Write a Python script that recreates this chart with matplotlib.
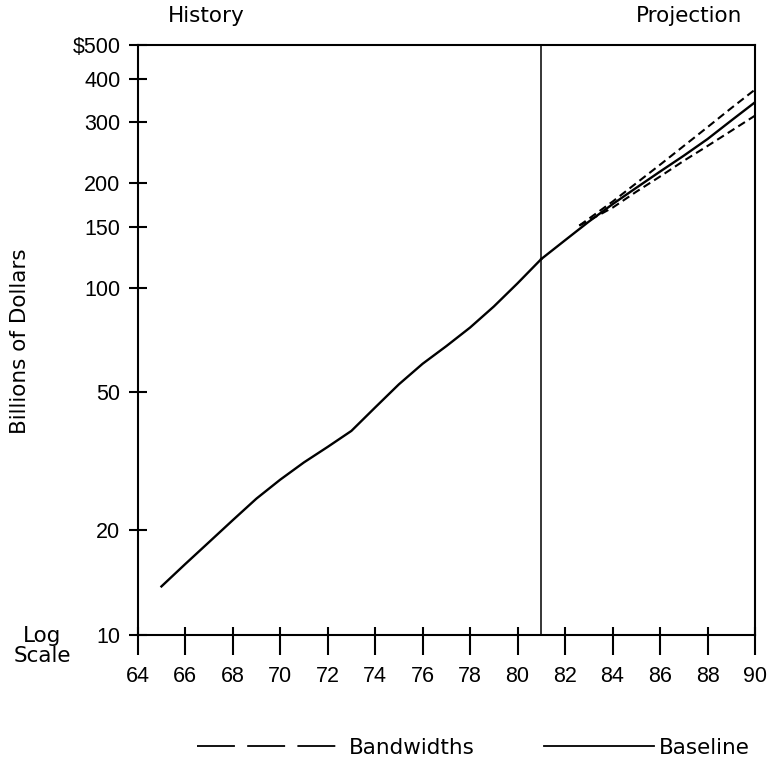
import matplotlib
matplotlib.use("Agg")
import matplotlib.pyplot as plt
from matplotlib.lines import Line2D
from matplotlib.ticker import FixedLocator, NullLocator

plt.rcParams["font.family"] = ["Liberation Sans", "DejaVu Sans"]
LABEL_FONT = ["DejaVu Sans"]

# historical series (fiscal years, billions of dollars)
hist_years = [65, 66, 67, 68, 69, 70, 71, 72, 73, 74, 75, 76, 77, 78, 79, 80, 81]
hist_values = [13.8, 16.0, 18.5, 21.4, 24.7, 28.0, 31.4, 34.8, 38.7, 45.2, 52.7,
               60.4, 67.9, 76.8, 88.3, 103, 121]

# projection
proj_years = [81, 82, 83, 84, 85, 86, 87, 88, 89, 90]
baseline = [121, 137, 155, 174, 194, 216, 240, 268, 303, 342]

band_years = [82.6, 84, 85, 86, 87, 88, 89, 90]
band_high = [151, 177, 200, 226, 256, 290, 329, 372]
band_low = [151, 170, 189, 209, 232, 256, 283, 313]

x_ticks = list(range(64, 91, 2))
y_ticks = [10, 20, 50, 100, 150, 200, 300, 400, 500]
y_labels = ["10", "20", "50", "100", "150", "200", "300", "400", "$500"]


def main():
    fig = plt.figure(figsize=(7.75, 7.65), dpi=100)
    ax = fig.add_axes([137.7 / 775, 130 / 765, 617.3 / 775, 590 / 765])

    ax.plot(hist_years, hist_values, color="black", lw=1.7, solid_joinstyle="round")
    ax.plot(proj_years, baseline, color="black", lw=1.7)
    ax.plot(band_years, band_high, color="black", lw=1.5, dashes=(3.8, 2.2))
    ax.plot(band_years, band_low, color="black", lw=1.5, dashes=(3.8, 2.2))
    ax.axvline(81, color="black", lw=1.1)

    ax.set_yscale("log")
    ax.set_xlim(64, 90)
    ax.set_ylim(10, 500)

    ax.yaxis.set_major_locator(FixedLocator(y_ticks))
    ax.yaxis.set_minor_locator(NullLocator())
    ax.set_yticklabels(y_labels)
    ax.set_xticks(x_ticks)
    ax.set_xticklabels([str(t) for t in x_ticks])

    # x ticks stick out below the axis more than above it
    ax.xaxis.set_minor_locator(FixedLocator(x_ticks))
    ax.xaxis.remove_overlapping_locs = False
    ax.tick_params(axis="x", which="major", direction="out", length=14.5, width=1.5,
                   pad=8, labelsize=15.5)
    ax.tick_params(axis="x", which="minor", direction="in", length=6, width=1.5)
    ax.tick_params(axis="y", which="major", direction="inout", length=13, width=1.5,
                   pad=6, labelsize=15.5)

    for s in ax.spines.values():
        s.set_linewidth(1.5)

    fig.text(206 / 775, 1 - 16 / 765, "History", ha="center", va="center",
             fontsize=15.5, family=LABEL_FONT)
    fig.text(689 / 775, 1 - 16 / 765, "Projection", ha="center", va="center",
             fontsize=15.5, family=LABEL_FONT)
    fig.text(20 / 775, 1 - 341 / 765, "Billions of Dollars", rotation=90,
             ha="center", va="center", fontsize=15.5, family=LABEL_FONT)
    fig.text(42 / 775, 1 - 646 / 765, "Log\nScale", ha="center", va="center",
             fontsize=15.5, linespacing=1.0, family=LABEL_FONT)

    leg_font = {"family": LABEL_FONT, "size": 15.5}
    band_handle = Line2D([], [], color="black", lw=1.3, dashes=(21, 6.8))
    base_handle = Line2D([], [], color="black", lw=1.3)
    fig.legend([band_handle], ["Bandwidths"], loc="center left",
               bbox_to_anchor=(197 / 775, 1 - 748 / 765), frameon=False,
               prop=leg_font, handlelength=6.5, handletextpad=0.55,
               borderpad=0, borderaxespad=0)
    fig.legend([base_handle], ["Baseline"], loc="center left",
               bbox_to_anchor=(544 / 775, 1 - 748 / 765), frameon=False,
               prop=leg_font, handlelength=5.1, handletextpad=0.25,
               borderpad=0, borderaxespad=0)

    fig.savefig("out.png", dpi=100)


if __name__ == '__main__':
    main()
